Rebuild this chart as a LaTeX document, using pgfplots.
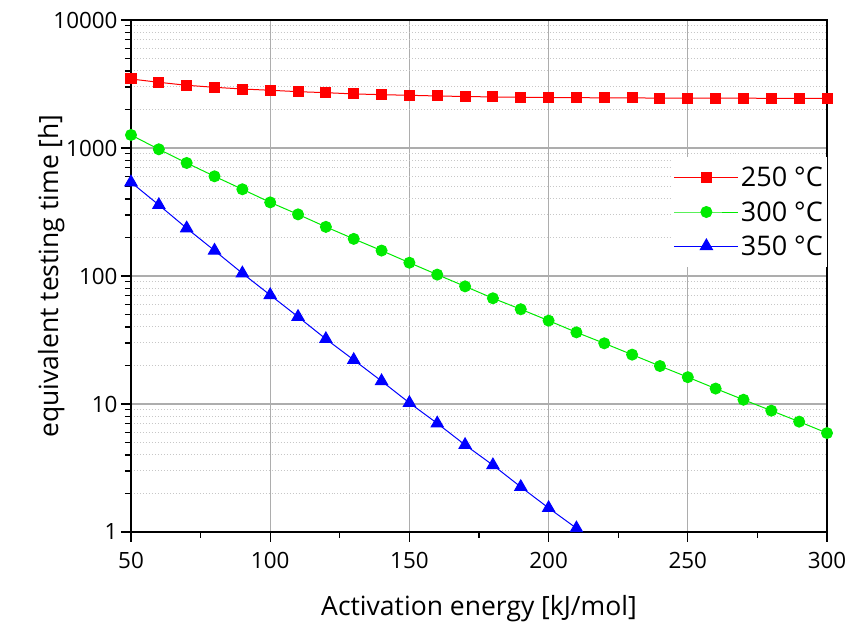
\documentclass[border=0pt]{standalone}
\usepackage{fontspec}
\setmainfont{Open Sans}
\usepackage{pgfplots}
\pgfplotsset{compat=1.18}
\definecolor{rred}{RGB}{255,0,0}
\definecolor{ggreen}{RGB}{0,235,0}
\definecolor{bblue}{RGB}{0,0,255}
\begin{document}
\begin{tikzpicture}
\useasboundingbox (0,0) rectangle (850bp,626bp);
\begin{axis}[
  at={(131bp,94bp)}, anchor=south west,
  scale only axis, width=696bp, height=512bp,
  xmin=50, xmax=300, ymode=log, ymin=1, ymax=10000,
  xtick={50,100,150,200,250,300},
  xticklabels={50,100,150,200,250,300},
  minor x tick num=1,
  ytick={1,10,100,1000,10000},
  yticklabels={1,10,100,1000,10000},
  /pgf/number format/assume math mode=true,
  tick align=outside, xtick pos=bottom, ytick pos=left,
  major tick length=10bp, minor tick length=6bp,
  every tick/.style={black, line width=1.2bp},
  axis line style={black, line width=1.8bp},
  xmajorgrids, ymajorgrids, yminorgrids,
  major grid style={color=black!32, line width=1.2bp, solid},
  minor grid style={color=black!22, line width=1bp, dotted},
  tick label style={font=\fontsize{22.4bp}{26bp}\selectfont},
  label style={font=\fontsize{26.5bp}{30bp}\selectfont},
  xlabel={Activation energy [kJ/mol]},
  ylabel={equivalent testing time [h]},
  xlabel style={at={(axis description cs:0.5,0)}, yshift=-60bp, anchor=north},
  ylabel style={at={(axis description cs:0,0.5)}, yshift=63bp, anchor=south},
  xticklabel style={yshift=-7bp},
  legend style={at={(1,0.732)}, anchor=north east, draw=none, fill=white,
    font=\fontsize{27bp}{30bp}\selectfont, row sep=9bp, inner xsep=2bp, inner ysep=8bp},
  legend cell align=left,
  legend image code/.code={\draw[mark repeat=2,mark phase=2] plot coordinates {(0bp,0bp)(32bp,0bp)(64bp,0bp)};},
  clip=false,
]
\addplot[rred, line width=1bp, mark=square*, mark size=5bp, mark options={solid, fill=rred, draw=rred}] coordinates {
(50,3460)(60,3260)(70,3090)(80,2980)(90,2890)(100,2825)(110,2755)(120,2705)(130,2645)(140,2610)
(150,2580)(160,2550)(170,2525)(180,2505)(190,2490)(200,2480)(210,2472)(220,2466)(230,2460)(240,2456)
(250,2452)(260,2450)(270,2448)(280,2446)(290,2445)(300,2444)};
\addlegendentry{250 °C}
\addplot[ggreen, line width=1bp, mark=*, mark size=5.5bp, mark options={solid, fill=ggreen, draw=ggreen}] coordinates {
(50,1264)(60,977)(70,764)(80,601)(90,476)(100,376)(110,303)(120,242)(130,195)(140,158)
(150,127)(160,102.5)(170,83)(180,67)(190,55)(200,44.8)(210,36.3)(220,29.8)(230,24.3)(240,19.8)
(250,16.2)(260,13.2)(270,10.8)(280,8.87)(290,7.28)(300,5.93)};
\addlegendentry{300 °C}
\addplot[bblue, line width=1bp, mark=triangle*, mark size=7bp, mark options={solid, fill=bblue, draw=bblue}] coordinates {
(50,540)(60,359)(70,236)(80,158)(90,105)(100,71)(110,48)(120,32.2)(130,22.1)(140,15.1)
(150,10.2)(160,7.06)(170,4.79)(180,3.33)(190,2.25)(200,1.54)(210,1.07)};
\addlegendentry{350 °C}
\end{axis}
\end{tikzpicture}
\end{document}
